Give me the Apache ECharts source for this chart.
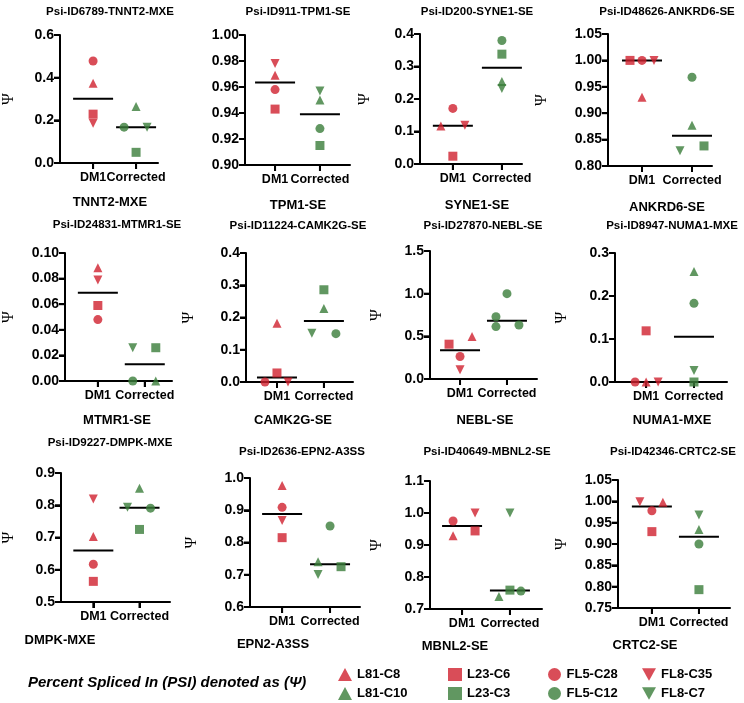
<!DOCTYPE html>
<html>
<head>
<meta charset="utf-8">
<script src="https://cdn.jsdelivr.net/npm/echarts@6/dist/echarts.min.js"></script>
<style>
  html, body { margin: 0; padding: 0; background: #fff; }
  #chart { width: 744px; height: 703px; }
</style>
</head>
<body>
<div id="chart"></div>
<script>
var panelTitles = [
  'Psi-ID6789-TNNT2-MXE', 'Psi-ID911-TPM1-SE', 'Psi-ID200-SYNE1-SE', 'Psi-ID48626-ANKRD6-SE',
  'Psi-ID24831-MTMR1-SE', 'Psi-ID11224-CAMK2G-SE', 'Psi-ID27870-NEBL-SE', 'Psi-ID8947-NUMA1-MXE',
  'Psi-ID9227-DMPK-MXE', 'Psi-ID2636-EPN2-A3SS', 'Psi-ID40649-MBNL2-SE', 'Psi-ID42346-CRTC2-SE'
];
var eventNames = [
  'TNNT2-MXE', 'TPM1-SE', 'SYNE1-SE', 'ANKRD6-SE',
  'MTMR1-SE', 'CAMK2G-SE', 'NEBL-SE', 'NUMA1-MXE',
  'DMPK-MXE', 'EPN2-A3SS', 'MBNL2-SE', 'CRTC2-SE'
];
var categories = ['DM1', 'Corrected'];
var dm1Samples = ['L81-C8', 'L23-C6', 'FL5-C28', 'FL8-C35'];
var correctedSamples = ['L81-C10', 'L23-C3', 'FL5-C12', 'FL8-C7'];

// PSI per panel, sample order: L81, L23, FL5, FL8
var dm1Values = [
  [0.374, 0.229, 0.478, 0.186],
  [0.969, 0.943, 0.958, 0.978],
  [0.117, 0.024, 0.171, 0.119],
  [0.93, 1.0, 1.0, 1.0],
  [0.0885, 0.059, 0.048, 0.079],
  [0.182, 0.028, 0, 0],
  [0.497, 0.408, 0.264, 0.109],
  [0, 0.119, 0, 0],
  [0.703, 0.564, 0.617, 0.819],
  [0.977, 0.815, 0.909, 0.868],
  [0.929, 0.944, 0.975, 1.0],
  [0.998, 0.929, 0.978, 0.999]
];
var correctedValues = [
  [0.265, 0.05, 0.168, 0.168],
  [0.950, 0.915, 0.928, 0.957],
  [0.254, 0.338, 0.380, 0.232],
  [0.877, 0.838, 0.968, 0.829],
  [0, 0.026, 0, 0.026],
  [0.228, 0.286, 0.150, 0.151],
  [1.0, 0.73, 0.614, 0.633],
  [0.257, 0, 0.183, 0.027],
  [0.853, 0.725, 0.791, 0.794],
  [0.740, 0.725, 0.851, 0.701],
  [0.739, 0.759, 0.756, 1.0],
  [0.934, 0.793, 0.90, 0.968]
];
var yMin = [0, 0.90, 0, 0.80, 0, 0, 0, 0, 0.5, 0.6, 0.7, 0.75];
var yMax = [0.6, 1.00, 0.4, 1.05, 0.10, 0.4, 1.5, 0.3, 0.9, 1.0, 1.1, 1.05];
var yStep = [0.2, 0.02, 0.1, 0.05, 0.02, 0.1, 0.5, 0.1, 0.1, 0.1, 0.1, 0.05];
var yDecimals = [1, 2, 1, 2, 2, 1, 1, 1, 1, 1, 1, 2];

// layout: [left, top, width, height, xMin, xMax]; DM1 sits at x=1, Corrected at x=2
var gridBox = [
  [51, 35, 107, 128, 0.23, 2.51],
  [245, 35, 105, 130, 0.33, 2.67],
  [420, 34, 102, 130, 0.33, 2.41],
  [608, 34, 104, 132, 0.32, 2.4],
  [58, 253, 114, 128, 0.3, 2.58],
  [246, 253, 107, 129, 0.34, 2.62],
  [430, 251, 107, 128, 0.36, 2.64],
  [615, 253, 112, 129, 0.35, 2.69],
  [59, 473, 111, 129, 0.3, 2.66],
  [250, 478, 110, 129, 0.33, 2.625],
  [430, 481, 112, 128, 0.33, 2.67],
  [618, 480, 112, 128, 0.28, 2.66]
];
// title [x, y], event label [x, y], psi label gap (0 = none)
var titlePos = [[110, 12], [298, 12], [477, 12], [667, 12], [117, 225], [298, 226], [483, 226], [672, 226],
  [110, 443], [302, 452], [487, 452], [673, 452]];
var eventPos = [[110, 202], [298, 205], [477, 205], [667, 207], [117, 420], [293, 420], [485, 420], [672, 420],
  [60, 640], [273, 644], [455, 646], [645, 645]];
var psiGap = [43, 0, 47, 58, 48, 49, 45, 45, 44, 50, 45, 48];
// horizontal scatter of points in px, [dm1 samples], [corrected samples]
var jitter = [
  [[0, 0, 0, 0], [0, 0, -12, 11]],
  [[0, 0, 0, 0], [0, 0, 0, 0]],
  [[-12, 0, 0, 12], [0, 0, 0, 0]],
  [[0, -12, 0, 12], [0, 12, 0, -12]],
  [[0, 0, 0, 0], [11, 11, -12, -12]],
  [[0, 0, -12, 11], [0, 0, 12, -12]],
  [[12, -11, 0, 0], [0, -11, -11, 12]],
  [[0, 0, -11, 12], [0, 0, 0, 0]],
  [[0, 0, 0, 0], [0, 0, 11, -12]],
  [[0, 0, 0, 0], [-12, 11, 0, -12]],
  [[-9, 13, -9, 13], [-11, 0, 11, 0]],
  [[11, 0, 0, -12], [0, 0, 0, 0]]
];

var red = '#d0202e';
var green = '#3a7d3a';
var font = 'Liberation Sans';
var downTriangle = 'path://M0,0L10,0L5,9Z';
var sampleSymbols = ['triangle', 'rect', 'circle', downTriangle];
var legendLefts = [338, 448, 548, 642];
var legendTops = [668, 687];

function median(arr) {
  var s = arr.slice().sort(function (a, b) { return a - b; });
  var m = s.length / 2;
  return s.length % 2 ? s[Math.floor(m)] : (s[m - 1] + s[m]) / 2;
}

function categoryLabel(v) {
  var name = categories[Math.round(v) - 1];
  return name === undefined ? '' : name;
}

function seg(x1, y1, x2, y2) {
  return { type: 'line', shape: { x1: x1, y1: y1, x2: x2, y2: y2 }, style: { stroke: '#000', lineWidth: 2 } };
}

var grids = [], xAxes = [], yAxes = [], series = [], graphics = [];

panelTitles.forEach(function (title, p) {
  var b = gridBox[p];
  grids.push({ left: b[0], top: b[1], width: b[2], height: b[3] });
  xAxes.push({
    type: 'value', gridIndex: p, min: b[4], max: b[5], z: 10,
    axisLine: { show: true, onZero: false, lineStyle: { color: '#000', width: 2 } },
    axisTick: { show: true, customValues: [1, 2], length: 6, lineStyle: { color: '#000', width: 2 } },
    axisLabel: {
      customValues: [1, 2], margin: 8, color: '#000', fontWeight: 'bold', fontSize: 12.5, fontFamily: font,
      formatter: categoryLabel
    },
    splitLine: { show: false }
  });
  var dec = yDecimals[p];
  yAxes.push({
    type: 'value', gridIndex: p, min: yMin[p], max: yMax[p], interval: yStep[p], z: 10,
    name: psiGap[p] ? 'Ψ' : '', nameLocation: 'middle', nameGap: psiGap[p], nameRotate: 90,
    nameTextStyle: { fontFamily: 'Liberation Serif', fontSize: 16, color: '#000' },
    axisLine: { show: true, onZero: false, lineStyle: { color: '#000', width: 2 } },
    axisTick: { show: true, length: 6, lineStyle: { color: '#000', width: 2 } },
    axisLabel: {
      margin: 6, color: '#000', fontWeight: 'bold', fontSize: 14, fontFamily: font,
      formatter: function (v) { return (+v).toFixed(dec); }
    },
    splitLine: { show: false }
  });

  // axis frame and ticks, placed through the panel's own scales
  series.push({
    type: 'custom',
    xAxisIndex: p,
    yAxisIndex: p,
    z: 10,
    silent: true,
    renderItem: function (params, api) {
      var o = api.coord([b[4], yMin[p]]);
      var xEnd = api.coord([b[5], yMin[p]]);
      var yEnd = api.coord([b[4], yMax[p]]);
      var kids = [seg(o[0] - 1, o[1], xEnd[0], xEnd[1]), seg(o[0], o[1], yEnd[0], yEnd[1])];
      var n = Math.round((yMax[p] - yMin[p]) / yStep[p]);
      for (var k = 0; k <= n; k++) {
        var t = api.coord([b[4], yMin[p] + k * yStep[p]]);
        kids.push(seg(t[0] - 6, t[1], t[0], t[1]));
      }
      [1, 2].forEach(function (c) {
        var t = api.coord([c, yMin[p]]);
        kids.push(seg(t[0], t[1], t[0], t[1] + 6));
      });
      return { type: 'group', children: kids };
    },
    data: [[1.5, (yMin[p] + yMax[p]) / 2]]
  });

  var groups = [dm1Values[p], correctedValues[p]];
  var names = [dm1Samples, correctedSamples];
  var colors = [red, green];
  groups.forEach(function (vals, g) {
    vals.forEach(function (v, s) {
      series.push({
        name: names[g][s],
        type: 'scatter',
        xAxisIndex: p,
        yAxisIndex: p,
        // NEBL corrected points are all drawn as circles in the source
        symbol: (p === 6 && g === 1) ? 'circle' : sampleSymbols[s],
        symbolSize: 9,
        symbolOffset: [jitter[p][g][s], 0],
        itemStyle: { color: colors[g] },
        clip: false,
        z: 12,
        data: [[g + 1, v]]
      });
    });
  });

  series.push({
    type: 'custom',
    xAxisIndex: p,
    yAxisIndex: p,
    z: 11,
    silent: true,
    renderItem: function (params, api) {
      var pt = api.coord([api.value(0), api.value(1)]);
      return seg(pt[0] - 20, pt[1], pt[0] + 20, pt[1]);
    },
    data: [[1, median(dm1Values[p])], [2, median(correctedValues[p])]]
  });

  graphics.push({
    type: 'text', x: titlePos[p][0], y: titlePos[p][1],
    style: { text: title, fontSize: 11.5, fontWeight: 'bold', fontFamily: font, fill: '#000',
      textAlign: 'center', textVerticalAlign: 'middle' }
  });
  graphics.push({
    type: 'text', x: eventPos[p][0], y: eventPos[p][1],
    style: { text: eventNames[p], fontSize: 13, fontWeight: 'bold', fontFamily: font, fill: '#000',
      textAlign: 'center', textVerticalAlign: 'middle' }
  });
});

graphics.push({
  type: 'text', x: 28, y: 683,
  style: { text: 'Percent Spliced In (PSI) denoted as (Ψ)', fontSize: 15, fontWeight: 'bold', fontStyle: 'italic',
    fontFamily: font, fill: '#000', textAlign: 'left', textVerticalAlign: 'middle' }
});

// one legend per entry so the two rows line up in columns
var legends = [];
[dm1Samples, correctedSamples].forEach(function (names, row) {
  names.forEach(function (name, i) {
    legends.push({
      left: legendLefts[i], top: legendTops[row], padding: 0, itemWidth: 14, itemHeight: 13,
      selectedMode: false,
      textStyle: { fontWeight: 'bold', fontSize: 13, color: '#000', fontFamily: font },
      data: [{ name: name, icon: sampleSymbols[i] }]
    });
  });
});

var chart = echarts.init(document.getElementById('chart'));
chart.setOption({
  animation: false,
  grid: grids,
  xAxis: xAxes,
  yAxis: yAxes,
  legend: legends,
  graphic: graphics,
  series: series
});
</script>
</body>
</html>
